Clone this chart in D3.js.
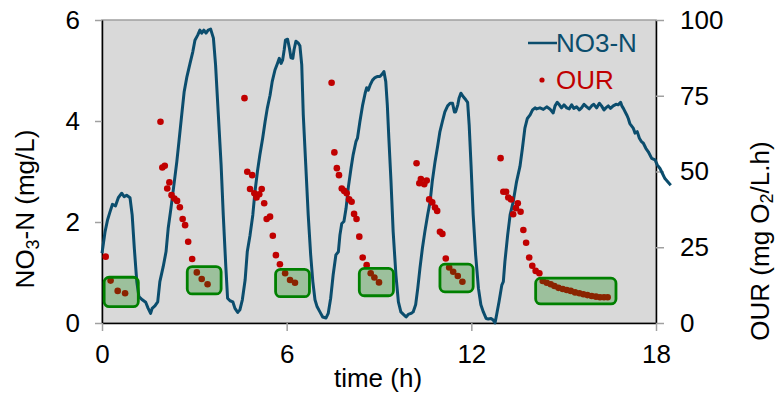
<!DOCTYPE html>
<html>
<head>
<meta charset="utf-8">
<script src="https://cdn.jsdelivr.net/npm/d3@7"></script>
<style>
  body { margin: 0; background: #fff; }
  svg text { font-family: "Liberation Sans", Arial, sans-serif; }
</style>
</head>
<body>
<svg id="chart" width="779" height="400"></svg>
<script>
// NO3-N trace (mg/L) vs time (h)
const no3Time = [0.00,0.10,0.18,0.26,0.34,0.44,0.53,0.64,0.72,0.80,0.91,0.98,1.05,1.13,1.20,1.31,1.42,1.50,1.58,1.63,1.72,1.81,1.88,1.99,2.08,2.15,2.24,2.35,2.43,2.50,2.59,2.67,2.76,2.86,2.95,3.02,3.11,3.18,3.24,3.31,3.38,3.45,3.53,3.62,3.69,3.78,3.87,3.94,4.02,4.08,4.16,4.25,4.32,4.41,4.48,4.56,4.65,4.72,4.81,4.90,4.97,5.05,5.13,5.22,5.30,5.37,5.46,5.53,5.62,5.70,5.76,5.82,5.87,5.92,5.96,6.03,6.09,6.14,6.20,6.24,6.30,6.38,6.43,6.49,6.54,6.62,6.70,6.78,6.85,6.92,6.99,7.08,7.17,7.28,7.35,7.43,7.51,7.60,7.68,7.73,7.79,7.86,7.93,8.00,8.09,8.16,8.25,8.30,8.38,8.47,8.55,8.60,8.65,8.71,8.79,8.87,8.94,9.03,9.09,9.16,9.22,9.27,9.32,9.39,9.46,9.55,9.63,9.71,9.81,9.88,9.95,10.04,10.11,10.19,10.26,10.33,10.41,10.49,10.58,10.66,10.73,10.82,10.91,10.98,11.06,11.14,11.23,11.31,11.39,11.45,11.49,11.56,11.60,11.66,11.74,11.82,11.88,11.93,11.99,12.06,12.14,12.23,12.31,12.39,12.48,12.55,12.64,12.71,12.77,12.82,12.90,12.99,13.04,13.09,13.18,13.26,13.36,13.47,13.58,13.66,13.74,13.82,13.91,13.99,14.07,14.12,14.23,14.34,14.45,14.55,14.66,14.72,14.79,14.86,14.93,15.01,15.10,15.18,15.26,15.33,15.42,15.51,15.58,15.66,15.75,15.83,15.91,15.98,16.07,16.16,16.23,16.31,16.37,16.45,16.52,16.61,16.70,16.77,16.85,16.89,16.94,17.05,17.10,17.15,17.26,17.32,17.39,17.46,17.53,17.59,17.67,17.75,17.86,17.97,18.04,18.13,18.21,18.29,18.48];
const no3Val = [1.38,1.81,2.04,2.20,2.35,2.32,2.48,2.57,2.50,2.53,2.48,2.14,1.48,0.82,0.52,0.46,0.41,0.29,0.19,0.29,0.34,0.42,0.82,1.12,1.41,1.87,2.27,2.80,3.19,3.59,4.12,4.58,4.88,5.14,5.37,5.60,5.70,5.80,5.74,5.80,5.74,5.80,5.82,5.64,5.11,4.12,3.13,2.14,1.15,0.49,0.44,0.42,0.29,0.21,0.26,0.46,0.85,1.41,1.74,2.14,2.60,3.00,3.33,3.66,3.99,4.25,4.51,4.78,5.01,5.14,5.24,5.14,5.21,5.41,5.60,5.62,5.44,5.25,5.24,5.41,5.58,5.54,5.49,5.11,4.12,3.13,2.14,1.35,0.82,0.46,0.32,0.22,0.12,0.10,0.19,0.49,0.95,1.35,1.41,1.74,1.97,2.01,2.27,2.67,3.06,3.33,3.59,3.66,3.99,4.32,4.55,4.66,4.61,4.71,4.81,4.86,4.88,4.88,4.92,4.98,4.78,4.32,3.66,2.80,1.81,0.95,0.42,0.22,0.16,0.12,0.17,0.19,0.22,0.36,0.69,1.08,1.48,1.81,2.14,2.40,2.80,3.19,3.52,3.79,3.99,4.18,4.30,4.35,4.35,4.18,4.18,4.32,4.45,4.55,4.48,4.42,4.37,3.92,3.13,2.14,1.35,0.69,0.36,0.22,0.09,0.08,0.09,0.06,0.00,0.16,0.42,0.75,0.82,1.21,1.74,2.14,2.40,2.80,3.10,3.46,3.86,4.05,4.12,4.22,4.26,4.24,4.26,4.23,4.28,4.24,4.16,4.30,4.37,4.32,4.26,4.32,4.26,4.24,4.32,4.25,4.28,4.22,4.26,4.33,4.28,4.24,4.30,4.33,4.26,4.35,4.30,4.22,4.26,4.30,4.25,4.30,4.33,4.32,4.37,4.30,4.25,4.12,4.05,3.95,3.86,3.76,3.79,3.66,3.59,3.56,3.46,3.39,3.26,3.23,3.13,3.06,2.96,2.86,2.73];

// OUR (mg O2/L.h) samples
const ourTime = [0.12,0.28,0.51,0.75,1.90,1.96,2.04,2.12,2.19,2.26,2.35,2.44,2.53,2.62,2.70,2.80,2.93,3.08,3.24,3.43,4.63,4.72,4.81,4.88,4.95,5.02,5.11,5.19,5.27,5.35,5.46,5.55,5.65,5.78,5.95,6.11,6.27,7.46,7.55,7.63,7.70,7.79,7.87,7.95,8.03,8.11,8.19,8.27,8.36,8.47,8.60,8.73,8.85,9.00,10.22,10.31,10.36,10.47,10.55,10.63,10.73,10.82,10.89,10.98,11.06,11.17,11.28,11.41,11.56,11.71,12.95,13.04,13.13,13.20,13.29,13.36,13.45,13.51,13.60,13.69,13.78,13.88,13.98,14.09,14.21,14.32,14.45,14.58,14.70,14.83,14.97,15.10,15.23,15.37,15.51,15.64,15.77,15.91,16.05,16.18,16.31,16.43];
const ourVal = [21.9,14.0,10.6,9.8,66.4,51.3,51.9,44.4,46.4,42.2,41.1,40.3,38.2,34.3,32.3,26.8,21.1,16.7,14.5,12.8,74.2,49.9,44.2,48.8,42.8,41.4,42.5,44.2,39.5,34.3,35.1,28.8,22.4,19.4,16.4,14.2,13.3,79.3,56.3,51.1,48.8,44.4,43.6,42.8,40.8,40.0,36.0,34.3,28.5,21.6,19.1,16.4,15.0,13.4,52.7,46.1,47.5,45.8,47.0,40.8,39.8,38.1,37.0,30.1,29.4,21.3,18.3,16.9,15.5,13.6,54.4,43.3,43.3,41.4,40.8,35.9,37.9,39.5,36.7,30.7,26.5,21.6,18.9,17.2,16.4,13.9,13.3,12.8,12.2,11.6,11.2,10.9,10.6,10.1,9.8,9.5,9.2,8.9,8.7,8.5,8.5,8.5];

// highlighted (green) windows, in time / OUR units
const boxT0 = [0.07, 2.77, 5.64, 8.36, 10.98, 14.09];
const boxT1 = [1.18, 3.87, 6.74, 9.47, 12.06, 16.70];
const boxLo = [5.4, 9.6, 8.7, 9.0, 10.3, 6.3];
const boxHi = [15.1, 18.6, 17.7, 18.0, 19.4, 14.8];

const xTicks = [0, 6, 12, 18];
const yLeftTicks = [0, 2, 4, 6];
const yRightTicks = [0, 25, 50, 75, 100];

const lineColor = '#0b4d6d';
const dotColor = '#c00000';
const tickGray = '#a0a0a0';

const svg = d3.select('#chart');
const margin = { top: 20, right: 123, bottom: 77, left: 102 };
const W = 779 - margin.left - margin.right;
const H = 400 - margin.top - margin.bottom;

const g = svg.append('g').attr('transform', `translate(${margin.left},${margin.top})`);

const x = d3.scaleLinear().domain([0, 18]).range([0, W]);
const yL = d3.scaleLinear().domain([0, 6]).range([H, 0]);
const yR = d3.scaleLinear().domain([0, 100]).range([H, 0]);

// plot background + grey border
g.append('rect')
  .attr('width', W).attr('height', H)
  .attr('fill', '#d9d9d9')
  .attr('stroke', tickGray).attr('stroke-width', 1.5);

// axes
const styleAxis = (sel) => {
  sel.selectAll('.tick line').attr('stroke', tickGray).attr('stroke-width', 1.5);
  sel.select('.domain').attr('stroke', '#000').attr('stroke-width', 1.5);
  sel.selectAll('text').attr('font-size', 26).attr('fill', '#000')
    .attr('font-family', '"Liberation Sans", Arial, sans-serif');
};

g.append('g')
  .call(d3.axisLeft(yL).tickValues(yLeftTicks).tickFormat(d3.format('d'))
    .tickSize(7).tickSizeOuter(0).tickPadding(15))
  .call(styleAxis);

g.append('g')
  .attr('transform', `translate(${W},0)`)
  .call(d3.axisRight(yR).tickValues(yRightTicks).tickFormat(d3.format('d'))
    .tickSize(8).tickSizeOuter(0).tickPadding(16))
  .call(styleAxis);

g.append('g')
  .attr('transform', `translate(0,${H})`)
  .call(d3.axisBottom(x).tickValues(xTicks).tickFormat(d3.format('d'))
    .tickSize(8).tickSizeOuter(0).tickPadding(13.5))
  .call(styleAxis);

// NO3-N line
const no3 = no3Time.map((t, i) => [t, no3Val[i]]);
g.append('path')
  .datum(no3)
  .attr('fill', 'none')
  .attr('stroke', lineColor)
  .attr('stroke-width', 3)
  .attr('stroke-linejoin', 'round')
  .attr('d', d3.line().x(d => x(d[0])).y(d => yL(d[1])));

// OUR points
const our = ourTime.map((t, i) => [t, ourVal[i]]);
g.append('g').selectAll('circle')
  .data(our)
  .join('circle')
  .attr('cx', d => x(d[0]))
  .attr('cy', d => yR(d[1]))
  .attr('r', 3.3)
  .attr('fill', dotColor);

// green boxes over the tail of each OUR decay
const boxes = boxT0.map((t, i) => ({ t0: t, t1: boxT1[i], lo: boxLo[i], hi: boxHi[i] }));
g.append('g').selectAll('rect')
  .data(boxes)
  .join('rect')
  .attr('x', d => x(d.t0))
  .attr('y', d => yR(d.hi))
  .attr('width', d => x(d.t1) - x(d.t0))
  .attr('height', d => yR(d.lo) - yR(d.hi))
  .attr('rx', 5).attr('ry', 5)
  .attr('fill', 'rgba(0,128,0,0.28)')
  .attr('stroke', '#008000')
  .attr('stroke-width', 2.8);

// legend
const leg = svg.append('g');
leg.append('line')
  .attr('x1', 528).attr('x2', 557).attr('y1', 43).attr('y2', 43)
  .attr('stroke', lineColor).attr('stroke-width', 2.5);
leg.append('text')
  .attr('x', 556).attr('y', 52)
  .attr('font-size', 26).attr('fill', lineColor)
  .text('NO3-N');
leg.append('circle')
  .attr('cx', 542).attr('cy', 80).attr('r', 2.6)
  .attr('fill', dotColor);
leg.append('text')
  .attr('x', 556).attr('y', 89)
  .attr('font-size', 26).attr('fill', dotColor)
  .text('OUR');

// axis titles
svg.append('text')
  .attr('x', 378).attr('y', 387)
  .attr('text-anchor', 'middle')
  .attr('font-size', 26)
  .text('time (h)');

const leftTitle = svg.append('text')
  .attr('transform', 'translate(34,209) rotate(-90)')
  .attr('text-anchor', 'middle')
  .attr('font-size', 26);
leftTitle.append('tspan').text('NO');
leftTitle.append('tspan').attr('font-size', 18).attr('dy', 5).text('3');
leftTitle.append('tspan').attr('dy', -5).text('-N (mg/L)');

const rightTitle = svg.append('text')
  .attr('transform', 'translate(769,241) rotate(-90)')
  .attr('text-anchor', 'middle')
  .attr('font-size', 26);
rightTitle.append('tspan').text('OUR (mg O');
rightTitle.append('tspan').attr('font-size', 18).attr('dy', 4).text('2');
rightTitle.append('tspan').attr('dy', -4).text('/L.h)');
</script>
</body>
</html>
